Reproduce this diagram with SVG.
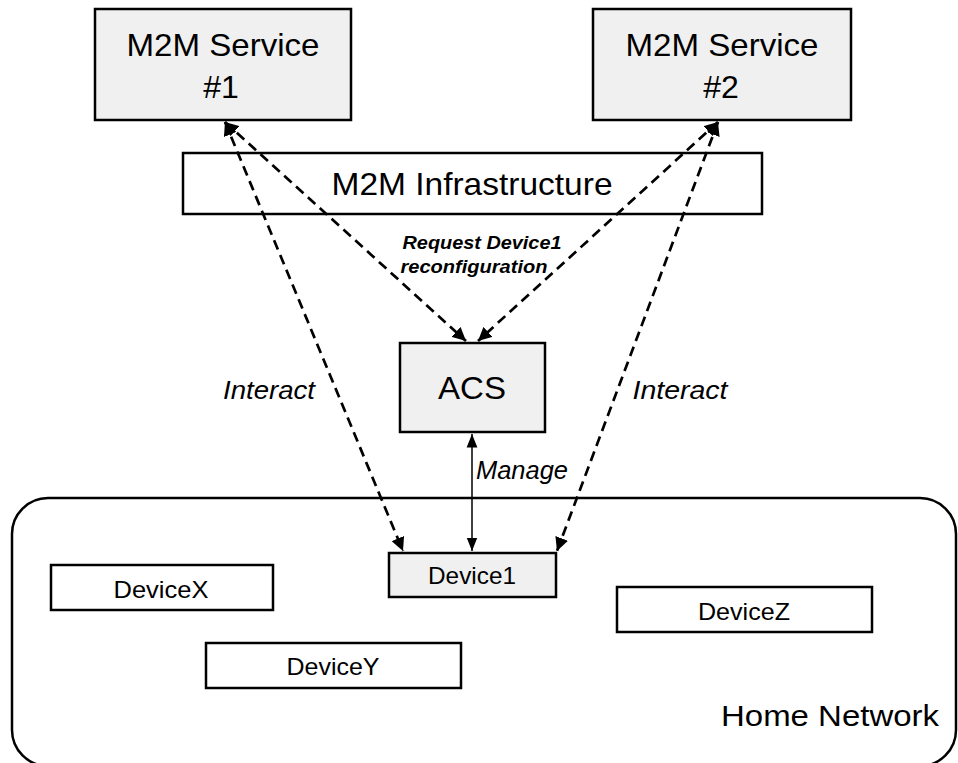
<svg xmlns="http://www.w3.org/2000/svg" width="958" height="763" viewBox="0 0 958 763">
  <style>
    .box { stroke: #000; stroke-width: 2.5; }
    .grey { fill: #f0f0f0; }
    .white { fill: #fff; }
    .t { font-family: "Liberation Sans", Arial, sans-serif; fill: #000; text-anchor: middle; }
    .big { font-size: 32px; }
    .dev { font-size: 24px; }
    .lbl { font-style: italic; font-size: 26px; }
    .req { font-style: italic; font-weight: bold; font-size: 18px; }
    .dash { fill: none; stroke: #000; stroke-width: 2.7; stroke-dasharray: 10 6; }
    .solid { fill: none; stroke: #000; stroke-width: 1.5; }
  </style>
  <defs>
    <marker id="head" viewBox="0 0 10 10" refX="10" refY="5" markerWidth="5" markerHeight="5" markerUnits="strokeWidth" orient="auto-start-reverse">
      <path d="M0,0 L10,5 L0,10 z" fill="#000"/>
    </marker>
    <marker id="headS" viewBox="0 0 10 10" refX="10" refY="5" markerWidth="9" markerHeight="9" markerUnits="strokeWidth" orient="auto-start-reverse">
      <path d="M0,1 L10,5 L0,9 z" fill="#000"/>
    </marker>
  </defs>

  <rect width="958" height="763" fill="#fff"/>

  <!-- Home network boundary -->
  <g id="home-network">
    <rect x="12" y="498" width="944" height="268" rx="36" ry="36" fill="none" stroke="#000" stroke-width="2.5"/>
    <text class="t" x="830" y="726" font-size="30" textLength="218" lengthAdjust="spacingAndGlyphs">Home Network</text>
  </g>

  <g id="svc1">
    <rect class="box grey" x="95" y="9" width="256" height="111"/>
    <text class="t big" x="223" y="56" textLength="193" lengthAdjust="spacingAndGlyphs">M2M Service</text>
    <text class="t big" x="221" y="98">#1</text>
  </g>

  <g id="svc2">
    <rect class="box grey" x="593" y="9" width="258" height="111"/>
    <text class="t big" x="722" y="56" textLength="193" lengthAdjust="spacingAndGlyphs">M2M Service</text>
    <text class="t big" x="721" y="98">#2</text>
  </g>

  <g id="infra">
    <rect class="box white" x="183" y="153" width="579" height="61"/>
    <text class="t big" x="472" y="195" textLength="281" lengthAdjust="spacingAndGlyphs">M2M Infrastructure</text>
  </g>

  <g id="acs">
    <rect class="box grey" x="400" y="343" width="145" height="89"/>
    <text class="t" x="472" y="399" font-size="32" textLength="68" lengthAdjust="spacingAndGlyphs">ACS</text>
  </g>

  <g id="device1">
    <rect class="box grey" x="389" y="553" width="167" height="44"/>
    <text class="t dev" x="472" y="584" textLength="88" lengthAdjust="spacingAndGlyphs">Device1</text>
  </g>

  <g id="deviceX">
    <rect class="box white" x="51" y="565" width="222" height="45"/>
    <text class="t dev" x="161" y="598" textLength="95" lengthAdjust="spacingAndGlyphs">DeviceX</text>
  </g>

  <g id="deviceZ">
    <rect class="box white" x="617" y="587" width="255" height="45"/>
    <text class="t dev" x="744" y="620" textLength="92" lengthAdjust="spacingAndGlyphs">DeviceZ</text>
  </g>

  <g id="deviceY">
    <rect class="box white" x="206" y="643" width="255" height="45"/>
    <text class="t dev" x="333" y="675" textLength="93" lengthAdjust="spacingAndGlyphs">DeviceY</text>
  </g>

  <!-- Connectors -->
  <g id="connectors">
    <line class="dash" x1="225" y1="122" x2="466" y2="341" marker-start="url(#head)" marker-end="url(#head)"/>
    <line class="dash" x1="225" y1="122" x2="403" y2="551" marker-start="url(#head)" marker-end="url(#head)"/>
    <line class="dash" x1="718" y1="122" x2="478" y2="341" marker-start="url(#head)" marker-end="url(#head)"/>
    <line class="dash" x1="718" y1="122" x2="557" y2="551" marker-start="url(#head)" marker-end="url(#head)"/>
    <line class="solid" x1="472" y1="434" x2="472" y2="551" marker-start="url(#headS)" marker-end="url(#headS)"/>

    <text class="t req" x="482" y="249" textLength="159" lengthAdjust="spacingAndGlyphs">Request Device1</text>
    <text class="t req" x="474" y="273" textLength="147" lengthAdjust="spacingAndGlyphs">reconfiguration</text>
    <text class="t lbl" x="269" y="399" textLength="92" lengthAdjust="spacingAndGlyphs">Interact</text>
    <text class="t lbl" x="680" y="399" textLength="95" lengthAdjust="spacingAndGlyphs">Interact</text>
    <text class="t lbl" x="522" y="479" font-size="24" textLength="92" lengthAdjust="spacingAndGlyphs">Manage</text>
  </g>
</svg>
